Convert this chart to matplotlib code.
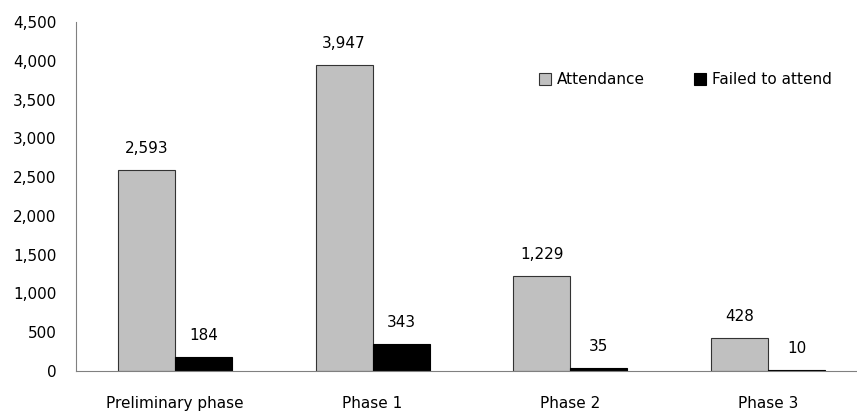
import matplotlib.pyplot as plt
import numpy as np

categories = ["Preliminary phase", "Phase 1", "Phase 2", "Phase 3"]
attendance = [2593, 3947, 1229, 428]
failed = [184, 343, 35, 10]

fig = plt.figure(figsize=(8.57, 4.12), dpi=100)
ax = fig.add_axes([0.0887, 0.0995, 0.9113, 0.847])

x = np.arange(len(categories))
w = 0.288
b1 = ax.bar(x - w / 2, attendance, w, color="#c0c0c0", edgecolor="#333333", linewidth=0.8, label="Attendance")
b2 = ax.bar(x + w / 2, failed, w, color="black", edgecolor="black", linewidth=0.8, label="Failed to attend")

for xi, v in zip(x - w / 2, attendance):
    ax.text(xi, v + 180, f"{v:,}", ha="center", va="bottom", fontsize=11)
for xi, v in zip(x + w / 2, failed):
    ax.text(xi, v + 180, f"{v:,}", ha="center", va="bottom", fontsize=11)

ax.set_ylim(0, 4500)
ax.set_xlim(-0.5, 3.45)
ax.set_yticks(np.arange(0, 4501, 500))
ax.set_yticklabels([f"{t:,}" for t in range(0, 4501, 500)], fontsize=11)
ax.set_xticks(x)
ax.set_xticklabels(categories, fontsize=11)
ax.tick_params(axis="y", length=0, pad=14)
ax.tick_params(axis="x", length=0, pad=18)

for s in ["top", "right"]:
    ax.spines[s].set_visible(False)
ax.spines["left"].set_color("#808080")
ax.spines["bottom"].set_color("#808080")

ax.legend(loc="center right", bbox_to_anchor=(0.968, 0.834), ncol=2, frameon=False,
          fontsize=11, handlelength=0.8, handleheight=0.8, handletextpad=0.4, columnspacing=3.2,
          borderaxespad=0, borderpad=0)

fig.savefig("out.png", dpi=100)
